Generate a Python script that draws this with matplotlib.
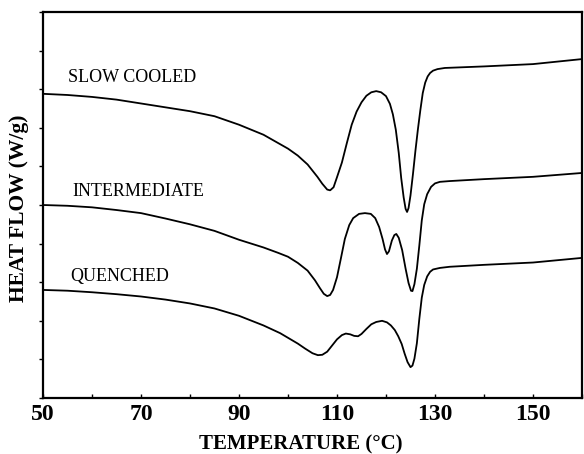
import matplotlib
matplotlib.use("Agg")
import matplotlib.pyplot as plt
import numpy as np

# DSC heating scans of three thermal histories (heat flow in arbitrary units, endo down)
temp_slow = [50, 55, 60, 65, 70, 75, 80, 85, 90, 95, 100, 102, 104, 106, 107, 108,
             108.6, 109.3, 110, 111, 112, 113, 114, 115, 116, 117, 118, 119, 120,
             120.8, 121.4, 122, 122.6, 123.1, 123.6, 124.0, 124.3, 124.6, 125.0,
             125.5, 126, 126.5, 127, 127.5, 128, 128.5, 129, 129.6, 130.5, 132,
             140, 150, 160]
flow_slow = [7.88, 7.85, 7.80, 7.73, 7.63, 7.53, 7.43, 7.30, 7.08, 6.82, 6.46, 6.28,
             6.05, 5.73, 5.55, 5.40, 5.38, 5.46, 5.72, 6.10, 6.60, 7.08, 7.42, 7.66,
             7.83, 7.92, 7.95, 7.92, 7.82, 7.62, 7.35, 6.95, 6.35, 5.70, 5.20, 4.90,
             4.82, 4.92, 5.25, 5.80, 6.40, 6.95, 7.45, 7.90, 8.17, 8.33, 8.42, 8.48,
             8.52, 8.55, 8.59, 8.65, 8.78]

temp_inter = [50, 55, 60, 65, 70, 75, 80, 85, 90, 95, 98, 100, 102, 104, 105.5, 106.5,
              107.3, 108, 108.6, 109.2, 110, 110.8, 111.6, 112.5, 113.3, 114.5, 115.7,
              116.9, 117.8, 118.6, 119.3, 119.8, 120.2, 120.6, 121.2, 121.7, 122.1,
              122.6, 123.3, 124.0, 124.6, 125.1, 125.4, 125.8, 126.3, 126.8, 127.3,
              127.8, 128.4, 129.2, 130, 131, 133, 140, 150, 160]
flow_inter = [5.00, 4.98, 4.94, 4.87, 4.79, 4.65, 4.50, 4.33, 4.10, 3.90, 3.76, 3.66,
              3.50, 3.30, 3.05, 2.85, 2.70, 2.64, 2.67, 2.80, 3.13, 3.62, 4.12, 4.48,
              4.66, 4.77, 4.79, 4.77, 4.66, 4.43, 4.12, 3.85, 3.73, 3.80, 4.08, 4.22,
              4.25, 4.15, 3.83, 3.35, 2.98, 2.78, 2.77, 2.95, 3.35, 3.95, 4.60, 5.02,
              5.28, 5.47, 5.56, 5.60, 5.62, 5.67, 5.73, 5.83]

temp_quench = [50, 55, 60, 65, 70, 75, 80, 85, 90, 95, 98.4, 100.4, 102, 103.5, 105,
               106.1, 107, 108, 109, 110, 111, 111.8, 112.7, 113.5, 114.3, 115, 116,
               117, 118, 119.2, 120.2, 121, 121.8, 122.5, 123.2, 123.8, 124.4, 125.0,
               125.4, 125.8, 126.3, 126.8, 127.3, 127.8, 128.4, 129, 129.6, 131, 133,
               140, 150, 160]
flow_quench = [2.80, 2.78, 2.74, 2.69, 2.63, 2.55, 2.45, 2.32, 2.13, 1.88, 1.68, 1.53,
               1.41, 1.28, 1.16, 1.11, 1.12, 1.20, 1.36, 1.52, 1.63, 1.67, 1.65, 1.61,
               1.60, 1.66, 1.79, 1.91, 1.97, 2.00, 1.96, 1.88, 1.76, 1.60, 1.40, 1.15,
               0.93, 0.80, 0.84, 1.02, 1.42, 2.05, 2.60, 2.93, 3.15, 3.27, 3.33, 3.37,
               3.40, 3.45, 3.51, 3.63]

curve_names = ["SLOW COOLED", "INTERMEDIATE", "QUENCHED"]
name_pos = [(55.1, 8.29), (55.9, 5.36), (55.5, 3.16)]

x_ticks = [50, 70, 90, 110, 130, 150]

serif = ["Liberation Serif", "DejaVu Serif"]

fig = plt.figure(figsize=(5.84, 4.54), dpi=100)
ax = fig.add_axes([0.0736, 0.1233, 0.9230, 0.8503])

for t, h in [(temp_slow, flow_slow), (temp_inter, flow_inter), (temp_quench, flow_quench)]:
    ax.plot(t, h, color="black", lw=1.3, solid_joinstyle="round", solid_capstyle="round")

for name, (tx, ty) in zip(curve_names, name_pos):
    ax.text(tx, ty, name, family=serif, fontsize=13, ha="left", va="center", color="black")

ax.set_xlim(50, 160)
ax.set_ylim(0, 10)

ax.set_xticks(x_ticks)
ax.set_xticklabels([str(v) for v in x_ticks], family=serif, fontsize=17, fontweight="bold")
ax.set_xticks(np.arange(50, 161, 10), minor=True)
ax.tick_params(axis="x", which="both", direction="in", length=3, width=1, pad=4)

ax.set_yticks(np.arange(0, 11, 1))
ax.set_yticklabels([])
ax.tick_params(axis="y", which="both", direction="out", length=3, width=1)

for s in ax.spines.values():
    s.set_linewidth(1.6)

ax.set_xlabel("TEMPERATURE (°C)", family=serif, fontsize=15, fontweight="bold")
ax.xaxis.set_label_coords((301 - 43) / 539, -(434 - 398) / 386)
ax.set_ylabel("HEAT FLOW (W/g)", family=serif, fontsize=15.5, fontweight="bold")
ax.yaxis.set_label_coords(-(43 - 29) / 539, (398 - 208) / 386)

fig.savefig("out.png", dpi=100)
